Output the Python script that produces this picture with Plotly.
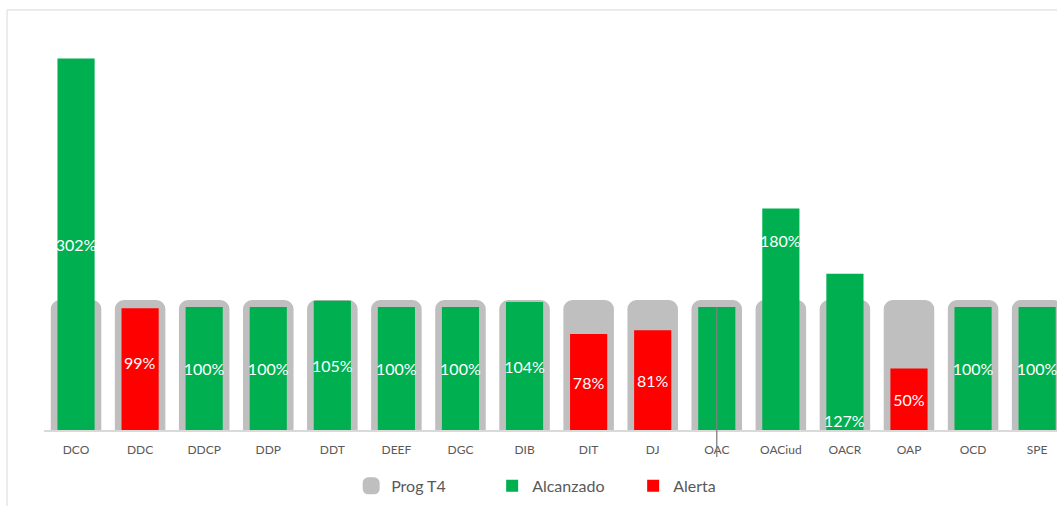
import plotly.graph_objects as go

categories = ["DCO", "DDC", "DDCP", "DDP", "DDT", "DEEF", "DGC", "DIB",
              "DIT", "DJ", "OAC", "OACiud", "OACR", "OAP", "OCD", "SPE"]
prog_t4 = [100] * 16
achieved = [302, 99, 100, 100, 105, 100, 100, 104, 78, 81, 100, 180, 127, 50, 100, 100]
is_alert = [False, True, False, False, False, False, False, False,
            True, True, False, False, False, True, False, False]
show_label = [True] * 16
show_label[categories.index("OAC")] = False

# labels placed manually in the original (data-unit y positions)
label_override = {"OACiud": 154, "OACR": 8, "DDC": 55}

GREEN = "#00B050"
RED = "#FF0000"
GRAY = "#BFBFBF"
FONT = "Lato"

green_y = [v if not a else None for v, a in zip(achieved, is_alert)]
red_y = [v if a else None for v, a in zip(achieved, is_alert)]


def labels(ys):
    out = []
    for c, v, s in zip(categories, ys, show_label):
        if v is None or not s or c in label_override:
            out.append("")
        else:
            out.append(f"{v}%")
    return out


fig = go.Figure()
fig.add_trace(go.Bar(
    x=categories, y=prog_t4, name="Prog T4", width=0.57,
    marker=dict(color=GRAY, line=dict(color=GRAY, width=14), cornerradius=2),
    hoverinfo="skip", xaxis="x", yaxis="y",
))
fig.add_trace(go.Bar(
    x=categories, y=green_y, name="Alcanzado", width=0.58,
    marker=dict(color=GREEN, line=dict(width=0)),
    text=labels(green_y), textposition="inside", insidetextanchor="middle",
    constraintext="none", textangle=0,
    textfont=dict(color="white", size=16, family=FONT),
    xaxis="x2", yaxis="y",
))
fig.add_trace(go.Bar(
    x=categories, y=red_y, name="Alerta", width=0.58,
    marker=dict(color=RED, line=dict(width=0)),
    text=labels(red_y), textposition="inside", insidetextanchor="middle",
    constraintext="none", textangle=0,
    textfont=dict(color="white", size=16, family=FONT),
    xaxis="x2", yaxis="y",
))

for cat, ypos in label_override.items():
    i = categories.index(cat)
    fig.add_annotation(x=cat, y=ypos, xref="x", yref="y", text=f"{achieved[i]}%",
                       showarrow=False, font=dict(color="white", size=16, family=FONT))

# thin leader line on OAC
fig.add_shape(type="line", xref="x", yref="paper", x0="OAC", x1="OAC",
              y0=-0.0685, y1=100 / 320.3, line=dict(color="#7F7F7F", width=1.3),
              layer="above")

# chart-area border (partially cropped in original)
fig.add_shape(type="rect", xref="paper", yref="paper", x0=-0.0365, x1=1.2,
              y0=-0.5, y1=1.066, line=dict(color="#D9D9D9", width=1),
              fillcolor="rgba(0,0,0,0)", layer="below")

xr = [-0.5, 15.31]
fig.update_layout(
    width=1057, height=506,
    margin=dict(l=44, r=0, t=36, b=76),
    barmode="overlay",
    paper_bgcolor="white", plot_bgcolor="white",
    font=dict(family=FONT, color="#595959"),
    showlegend=True,
    legend=dict(orientation="h", x=0.512, xanchor="center", y=-0.142, yanchor="middle",
                font=dict(size=16, color="#595959", family=FONT),
                traceorder="normal", itemwidth=30, entrywidth=96, entrywidthmode="pixels"),
    xaxis=dict(range=xr, showgrid=False, zeroline=False,
               categoryorder="array", categoryarray=categories,
               showline=True, linecolor="#D9D9D9", linewidth=1.5,
               ticks="", tickfont=dict(size=12, color="#595959", family=FONT),
               ticklabelstandoff=8, fixedrange=True),
    xaxis2=dict(range=xr, overlaying="x", visible=False, showgrid=False, zeroline=False,
                categoryorder="array", categoryarray=categories, fixedrange=True),
    yaxis=dict(range=[0, 320.3], visible=False, showgrid=False, fixedrange=True),
)

fig.write_html("out.html")
